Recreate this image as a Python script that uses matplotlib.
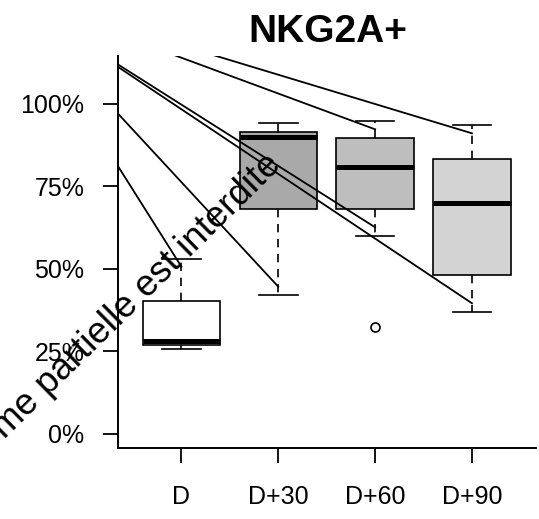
import matplotlib
matplotlib.use("Agg")
import matplotlib.pyplot as plt

plt.rcParams['font.family'] = ['Liberation Sans', 'DejaVu Sans']

# ---- data ----
categories = ["D", "D+30", "D+60", "D+90"]
whislo = [0.257, 0.421, 0.600, 0.370]
q1 = [0.269, 0.680, 0.681, 0.481]
med = [0.280, 0.899, 0.808, 0.699]
q3 = [0.402, 0.916, 0.897, 0.832]
whishi = [0.529, 0.941, 0.948, 0.936]
fliers = [[], [], [0.323], []]
box_colors = ["#FFFFFF", "#A9A9A9", "#BEBEBE", "#D3D3D3"]
ytick_vals = [0.0, 0.25, 0.5, 0.75, 1.0]
ytick_labels = ["0%", "25%", "50%", "75%", "100%"]
title = "NKG2A+"
watermark = "Toute reproduction même partielle est interdite"

# stray segments (x0, y0) -> (x1, y1), in data units
seg_x0 = [0.3264, 0.3264, 0.3264, 0.3264, 0.8964, 1.2933]
seg_y0 = [1.1227, 1.1155, 0.9761, 0.8197, 1.1509, 1.1509]
seg_x1 = [3.0, 4.0, 2.0, 1.0, 3.0, 4.0]
seg_y1 = [0.6258, 0.3955, 0.4458, 0.5064, 0.9227, 0.9106]

W, H = 539, 519
fig = plt.figure(figsize=(W / 100, H / 100), dpi=100)
ax = fig.add_axes([117.5 / W, (H - 448.3) / H, 418.4 / W, 392.0 / H])

stats = []
for i, c in enumerate(categories):
    stats.append(dict(label=c, whislo=whislo[i], q1=q1[i], med=med[i],
                      q3=q3[i], whishi=whishi[i], fliers=fliers[i]))

lw = 1.2
positions = list(range(1, len(categories) + 1))
bp = ax.bxp(stats, positions=positions, widths=0.8, patch_artist=True,
            capwidths=0.4, showfliers=True,
            boxprops=dict(linewidth=lw, edgecolor="black"),
            medianprops=dict(color="black", linewidth=3.6, solid_capstyle="butt"),
            whiskerprops=dict(color="black", linewidth=lw, linestyle=(0, (5.0, 4.0))),
            capprops=dict(color="black", linewidth=lw),
            flierprops=dict(marker="o", markerfacecolor="none",
                            markeredgecolor="black", markersize=6.5,
                            markeredgewidth=1.2))
for patch, col in zip(bp["boxes"], box_colors):
    patch.set_facecolor(col)

for x0, y0, x1, y1 in zip(seg_x0, seg_y0, seg_x1, seg_y1):
    ax.plot([x0, x1], [y0, y1], color="black", linewidth=1.3, zorder=5)

ax.set_xlim(0.34, 4.66)
ax.set_ylim(-0.044, 1.144)

ax.set_yticks(ytick_vals)
ax.set_yticklabels(ytick_labels)
ax.set_xticks(positions)
ax.set_xticklabels(categories)

for s in ["top", "right"]:
    ax.spines[s].set_visible(False)
for s in ["left", "bottom"]:
    ax.spines[s].set_linewidth(1.4)

ax.tick_params(axis="both", direction="out", length=10.8, width=1.3,
               labelsize=18, colors="black")
ax.tick_params(axis="y", pad=13.0)
ax.tick_params(axis="x", pad=15.5)

fig.text(327.5 / W, (H - 41.7) / H, title, ha="center", va="baseline",
         fontsize=28, fontweight="bold")

fig.text(283 / W, (H - 166) / H, watermark, ha="right", va="baseline",
         rotation=44.5, rotation_mode="anchor", fontsize=26.5, zorder=10)

fig.savefig("out.png", dpi=100)
